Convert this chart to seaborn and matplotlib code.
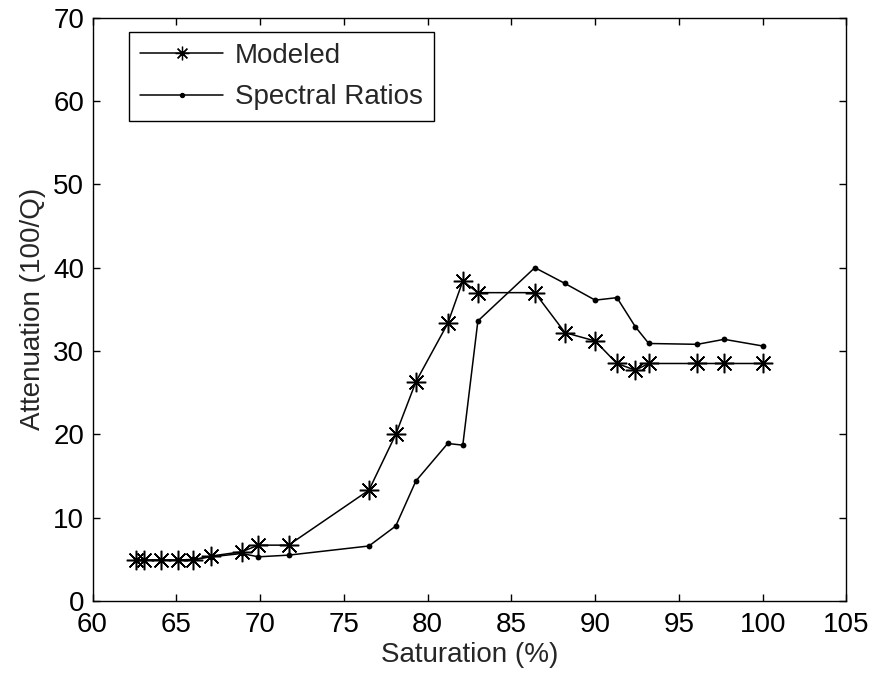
import matplotlib
matplotlib.use("Agg")
import matplotlib.pyplot as plt
import seaborn as sns
import pandas as pd

# Saturation levels (%) and attenuation (100/Q) for both estimates
saturation = [62.6, 63.1, 64.1, 65.1, 66.0, 67.1, 68.9, 69.9, 71.7, 76.5,
              78.1, 79.3, 81.2, 82.1, 83.0, 86.4, 88.2, 90.0, 91.3, 92.4,
              93.2, 96.1, 97.7, 100.0]
modeled = [4.9, 4.9, 4.9, 4.9, 4.9, 5.4, 5.9, 6.7, 6.7, 13.3,
           20.0, 26.3, 33.3, 38.4, 37.0, 37.0, 32.2, 31.2, 28.5, 27.7,
           28.5, 28.5, 28.5, 28.5]
spectral = [4.9, 4.9, 4.9, 4.9, 5.0, 5.3, 5.7, 5.3, 5.5, 6.6,
            9.0, 14.4, 18.9, 18.7, 33.6, 40.0, 38.1, 36.1, 36.4, 32.9,
            30.9, 30.8, 31.4, 30.6]

x_ticks = [60, 65, 70, 75, 80, 85, 90, 95, 100, 105]
y_ticks = [0, 10, 20, 30, 40, 50, 60, 70]

df = pd.DataFrame({"saturation": saturation,
                   "Modeled": modeled,
                   "Spectral Ratios": spectral})

sns.set_style("ticks")
plt.rcParams["font.family"] = ["Liberation Sans", "DejaVu Sans"]
plt.rcParams["font.size"] = 20

fig = plt.figure(figsize=(8.77, 6.82), dpi=100)
ax = fig.add_axes([0.1055, 0.1188, 0.8597, 0.8553])

sns.lineplot(data=df, x="saturation", y="Modeled", ax=ax, color="black",
             linewidth=1.1, marker=(8, 2, 0), markersize=14,
             markeredgewidth=1.1, markeredgecolor="black",
             markerfacecolor="black", label="Modeled", sort=False)
sns.lineplot(data=df, x="saturation", y="Spectral Ratios", ax=ax, color="black",
             linewidth=1.1, marker="o", markersize=4.2,
             markeredgewidth=0, markeredgecolor="black",
             markerfacecolor="black", label="Spectral Ratios", sort=False)

ax.set_xlim(60, 105)
ax.set_ylim(0, 70)
ax.set_xticks(x_ticks)
ax.set_yticks(y_ticks)
ax.set_xlabel("Saturation (%)", fontsize=20, labelpad=3)
ax.set_ylabel("Attenuation (100/Q)", fontsize=20, labelpad=5)

for side in ["top", "right", "bottom", "left"]:
    ax.spines[side].set_visible(True)
    ax.spines[side].set_linewidth(1.0)
    ax.spines[side].set_color("black")

ax.tick_params(axis="both", which="major", direction="in", length=5,
               width=1.0, labelsize=20, top=True, right=True, colors="black")
ax.tick_params(axis="x", pad=8)
ax.tick_params(axis="y", pad=6)

leg = ax.legend(loc="upper left", bbox_to_anchor=(0.0484, 0.9755),
                borderaxespad=0, fancybox=False, framealpha=1,
                edgecolor="black", handlelength=3.0, handletextpad=0.4,
                borderpad=0.4, labelspacing=0.55, fontsize=20, markerscale=0.7)
leg.get_frame().set_linewidth(1.0)
for handle in leg.legend_handles:
    handle.set_markeredgewidth(0.9)

fig.savefig("out.png", dpi=100)
